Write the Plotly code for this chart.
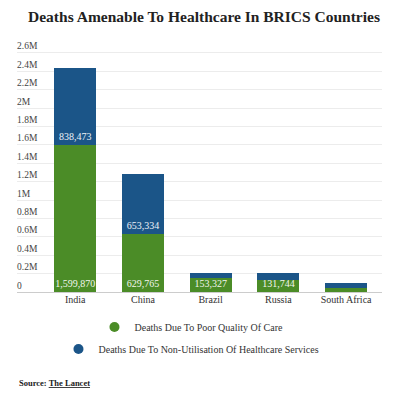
import plotly.graph_objects as go

countries = ["India", "China", "Brazil", "Russia", "South Africa"]
poor_quality = [1599870, 629765, 153327, 131744, 45000]
non_utilisation = [838473, 653334, 51000, 72000, 55000]
poor_labels = ["1,599,870", "629,765", "153,327", "131,744", ""]
non_util_labels = ["838,473", "653,334", "", "", ""]
tick_vals = [0, 200000, 400000, 600000, 800000, 1000000, 1200000, 1400000,
             1600000, 1800000, 2000000, 2200000, 2400000, 2600000]
tick_text = ["0", "0.2M", "0.4M", "0.6M", "0.8M", "1M", "1.2M", "1.4M",
             "1.6M", "1.8M", "2M", "2.2M", "2.4M", "2.6M"]

GREEN = "#4b8c27"
BLUE = "#1b5588"
FONT = "Liberation Serif"

fig = go.Figure()
fig.add_trace(go.Bar(
    x=countries, y=poor_quality, name="Deaths Due To Poor Quality Of Care",
    marker=dict(color=GREEN, line=dict(width=0)),
    text=poor_labels, textposition="inside", insidetextanchor="start",
    constraintext="none", textangle=0,
    textfont=dict(family=FONT, size=10, color="#f2f6ee"),
    showlegend=False, hoverinfo="skip"))
fig.add_trace(go.Bar(
    x=countries, y=non_utilisation, name="Deaths Due To Non-Utilisation Of Healthcare Services",
    marker=dict(color=BLUE, line=dict(width=0)),
    text=non_util_labels, textposition="inside", insidetextanchor="start",
    constraintext="none", textangle=0,
    textfont=dict(family=FONT, size=10, color="#eef2f7"),
    showlegend=False, hoverinfo="skip"))

# legend entries with circle symbols
fig.add_trace(go.Scatter(x=[None], y=[None], mode="markers",
                         name="Deaths Due To Poor Quality Of Care",
                         marker=dict(color=GREEN, size=10, symbol="circle"),
                         legend="legend"))
fig.add_trace(go.Scatter(x=[None], y=[None], mode="markers",
                         name="Deaths Due To Non-Utilisation Of Healthcare Services",
                         marker=dict(color=BLUE, size=10, symbol="circle"),
                         legend="legend2"))

fig.update_layout(
    width=392, height=387,
    barmode="stack", bargap=0.38,
    paper_bgcolor="white", plot_bgcolor="white",
    margin=dict(l=9, r=18, t=31, b=103, autoexpand=False),
    font=dict(family=FONT, color="#333333"),
    title=dict(text="<b>Deaths Amenable To Healthcare In BRICS Countries</b>",
               x=0.5, xanchor="center", y=0.977, yanchor="middle",
               font=dict(family=FONT, size=15.5, color="#222222")),
    xaxis=dict(range=[-0.86, 4.53], showgrid=False, ticks="",
               tickfont=dict(family=FONT, size=10, color="#333333"),
               showline=False, fixedrange=True, automargin=False),
    yaxis=dict(range=[0, 2750000], tickvals=tick_vals, ticktext=tick_text,
               ticklabelposition="inside top", ticklabelstandoff=-3, ticks="",
               tickfont=dict(family=FONT, size=9.5, color="#444444"),
               showgrid=True, gridcolor="#ececec", gridwidth=1,
               zeroline=True, zerolinecolor="#cccccc", zerolinewidth=1,
               showline=False, automargin=False),
    legend=dict(orientation="h", x=0.478, xanchor="center", y=-0.138, yanchor="middle",
                font=dict(family=FONT, size=10, color="#333333"),
                bgcolor="rgba(0,0,0,0)", itemwidth=30),
    legend2=dict(orientation="h", x=0.478, xanchor="center", y=-0.225, yanchor="middle",
                 font=dict(family=FONT, size=10, color="#333333"),
                 bgcolor="rgba(0,0,0,0)", itemwidth=30),
    annotations=[dict(text="<b>Source: <u>The Lancet</u></b>", xref="paper", yref="paper",
                      x=0.0, xanchor="left", y=-0.36, yanchor="middle", showarrow=False,
                      font=dict(family=FONT, size=8.5, color="#222222"))],
)

fig.write_html("out.html")
